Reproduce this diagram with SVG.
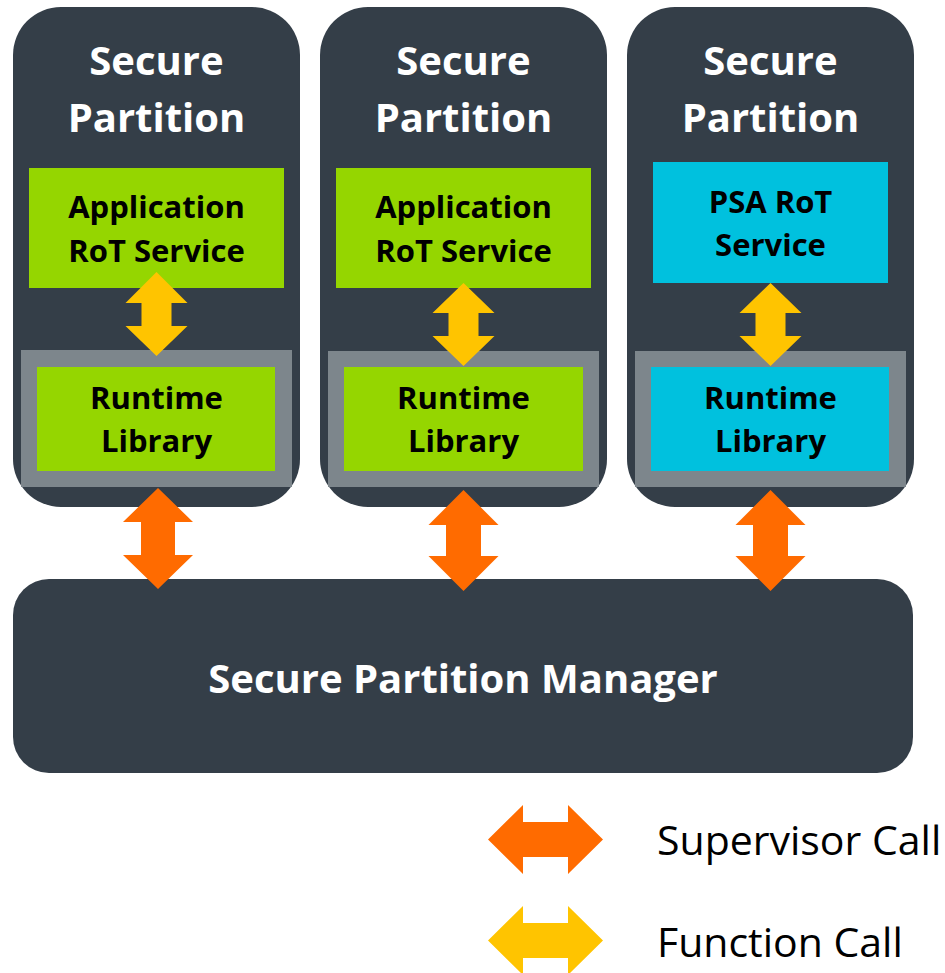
<svg xmlns="http://www.w3.org/2000/svg" width="945" height="973" viewBox="0 0 945 973">
  <defs>
    <style>
      .panel { fill: #343e48; }
      .frame { fill: #7d868c; }
      .green { fill: #95d600; }
      .cyan { fill: #00c1de; }
      .svc { fill: #ff6b00; }
      .fn { fill: #ffc400; }
      .title { font-family: "Open Sans", "Liberation Sans", sans-serif; font-weight: bold; font-size: 40px; fill: #ffffff; text-anchor: middle; }
      .label { font-family: "Open Sans", "Liberation Sans", sans-serif; font-weight: bold; font-size: 31px; fill: #000000; text-anchor: middle; }
      .legend { font-family: "Open Sans", "Liberation Sans", sans-serif; font-size: 41px; fill: #000000; }
    </style>
  </defs>

  <!-- Partition 1 -->
  <g id="partition-1">
    <rect class="panel" x="13" y="7" width="287" height="500" rx="48" ry="48"/>
    <text class="title" x="156.5" y="75">Secure</text>
    <text class="title" x="156.5" y="132">Partition</text>
    <rect class="green" x="29" y="168" width="255" height="120"/>
    <text class="label" x="156.5" y="218">Application</text>
    <text class="label" x="156.5" y="262">RoT Service</text>
    <rect class="frame" x="21" y="350" width="271" height="137"/>
    <rect class="green" x="37" y="367" width="238" height="104"/>
    <text class="label" x="156.5" y="409">Runtime</text>
    <text class="label" x="156.5" y="452">Library</text>
  </g>

  <!-- Partition 2 -->
  <g id="partition-2">
    <rect class="panel" x="320" y="7" width="287" height="500" rx="48" ry="48"/>
    <text class="title" x="463.5" y="75">Secure</text>
    <text class="title" x="463.5" y="132">Partition</text>
    <rect class="green" x="336" y="168" width="255" height="120"/>
    <text class="label" x="463.5" y="218">Application</text>
    <text class="label" x="463.5" y="262">RoT Service</text>
    <rect class="frame" x="328" y="351" width="271" height="136"/>
    <rect class="green" x="344" y="367" width="239" height="104"/>
    <text class="label" x="463.5" y="409">Runtime</text>
    <text class="label" x="463.5" y="452">Library</text>
  </g>

  <!-- Partition 3 -->
  <g id="partition-3">
    <rect class="panel" x="627" y="7" width="287" height="500" rx="48" ry="48"/>
    <text class="title" x="770.5" y="75">Secure</text>
    <text class="title" x="770.5" y="132">Partition</text>
    <rect class="cyan" x="653" y="162" width="235" height="121"/>
    <text class="label" x="770.5" y="213">PSA RoT</text>
    <text class="label" x="770.5" y="256">Service</text>
    <rect class="frame" x="635" y="351" width="271" height="136"/>
    <rect class="cyan" x="651" y="367" width="238" height="104"/>
    <text class="label" x="770.5" y="409">Runtime</text>
    <text class="label" x="770.5" y="452">Library</text>
  </g>

  <!-- Secure Partition Manager -->
  <g id="spm">
    <rect class="panel" x="13" y="579" width="900" height="194" rx="36" ry="36"/>
    <text class="title" x="463" y="693" font-size="41">Secure Partition Manager</text>
  </g>

  <!-- Connectors: double-headed block arrows -->
  <g id="connectors">
    <!-- function calls inside partitions -->
    <polygon class="fn" points="156.5,272 187.5,303 171.5,303 171.5,326 187.5,326 156.5,356 125.5,326 141.5,326 141.5,303 125.5,303"/>
    <polygon class="fn" points="463.5,283 494.5,313 478.5,313 478.5,336 494.5,336 463.5,366 432.5,336 448.5,336 448.5,313 432.5,313"/>
    <polygon class="fn" points="770.5,283 801.5,313 785.5,313 785.5,336 801.5,336 770.5,366 739.5,336 755.5,336 755.5,313 739.5,313"/>
    <!-- supervisor calls to the manager -->
    <polygon class="svc" points="158,488 193,522 175,522 175,555 193,555 158,589 123,555 141,555 141,522 123,522"/>
    <polygon class="svc" points="463.5,490 498.5,525 481,525 481,556 498.5,556 463.5,591 428.5,556 446,556 446,525 428.5,525"/>
    <polygon class="svc" points="770.5,490 805.5,525 788,525 788,556 805.5,556 770.5,591 735.5,556 753,556 753,525 735.5,525"/>
  </g>

  <!-- Legend -->
  <g id="legend">
    <polygon class="svc" points="488,839.5 523,805 523,822 568,822 568,805 603,839.5 568,874 568,857 523,857 523,874"/>
    <text class="legend" x="657" y="855">Supervisor Call</text>
    <polygon class="fn" points="488,940.5 523,906 523,923 568,923 568,906 603,940.5 568,975 568,958 523,958 523,975"/>
    <text class="legend" x="657" y="957">Function Call</text>
  </g>
</svg>
